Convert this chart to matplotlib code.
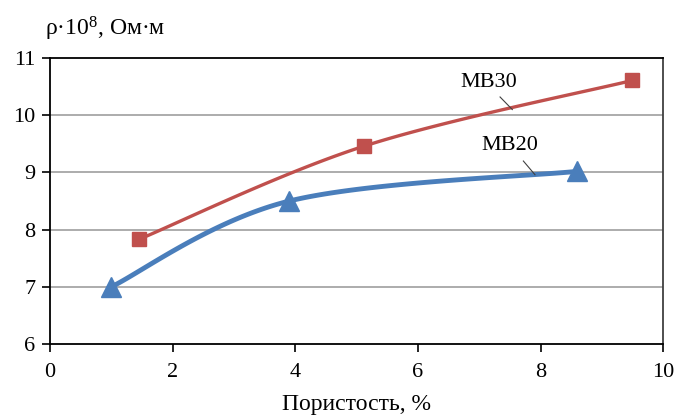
import numpy as np
import matplotlib
matplotlib.use("Agg")
import matplotlib.pyplot as plt

plt.rcParams['font.family'] = ['Liberation Serif', 'DejaVu Serif']
plt.rcParams['mathtext.fontset'] = 'custom'
plt.rcParams['mathtext.rm'] = 'Liberation Serif'
plt.rcParams['mathtext.it'] = 'Liberation Serif:italic'

# Data
mb30_x = [1.45, 5.12, 9.5]
mb30_y = [7.83, 9.46, 10.61]
mb20_x = [1.0, 3.9, 8.6]
mb20_y = [7.0, 8.5, 9.02]
x_ticks = [0, 2, 4, 6, 8, 10]
y_ticks = [6, 7, 8, 9, 10, 11]
series_names = ["MB30", "MB20"]


def smooth(xs, ys, n=60):
    p = np.column_stack([xs, ys]).astype(float)
    pts = np.vstack([p[0], p, p[-1]])
    out = []
    for i in range(1, len(pts) - 2):
        p0, p1, p2, p3 = pts[i - 1], pts[i], pts[i + 1], pts[i + 2]
        c1 = p1 + (p2 - p0) / 6.0
        c2 = p2 - (p3 - p1) / 6.0
        t = np.linspace(0, 1, n)[:, None]
        seg = ((1 - t) ** 3) * p1 + 3 * ((1 - t) ** 2) * t * c1 + 3 * (1 - t) * t ** 2 * c2 + t ** 3 * p2
        out.append(seg)
    c = np.vstack(out)
    return c[:, 0], c[:, 1]


fig = plt.figure(figsize=(6.76, 4.18), dpi=100)
ax = fig.add_axes([0.074, 0.177, 0.907, 0.684])

red = '#C0504D'
blue = '#4A7EBB'

for v in y_ticks[1:-1]:
    ax.axhline(v, color='#A6A6A6', lw=1.3, zorder=1)

sx, sy = smooth(mb30_x, mb30_y)
ax.plot(sx, sy, color=red, lw=2.4, zorder=3, solid_capstyle='round')
ax.plot(mb30_x, mb30_y, 's', color=red, ms=9.5, zorder=4)

sx, sy = smooth(mb20_x, mb20_y)
ax.plot(sx, sy, color=blue, lw=3.5, zorder=3, solid_capstyle='round')
ax.plot(mb20_x, mb20_y, '^', color=blue, ms=15, zorder=4)

ax.set_xlim(0, 10)
ax.set_ylim(6, 11)
ax.set_xticks(x_ticks)
ax.set_yticks(y_ticks)
ax.tick_params(axis='both', direction='out', length=5.5, width=1.2, labelsize=16, colors='#000000')
ax.tick_params(axis='x', pad=8)
ax.tick_params(axis='y', pad=5)
for s in ax.spines.values():
    s.set_color('#404040')
    s.set_linewidth(1.3)
ax.spines['left'].set_color('#000000')
ax.spines['bottom'].set_color('#000000')
ax.spines['top'].set_color('#000000')

ax.set_xlabel('Пористость, %', fontsize=17, labelpad=9)
fig.text(0.066, 0.93, r'ρ·10$^{8}$, Ом·м', fontsize=17, ha='left', va='center')

ax.text(7.15, 10.58, series_names[0], fontsize=16, ha='center', va='center')
ax.plot([7.34, 7.54], [10.32, 10.10], color='#404040', lw=0.8, zorder=5)
ax.text(7.5, 9.48, series_names[1], fontsize=16, ha='center', va='center')
ax.plot([7.72, 7.91], [9.2, 8.96], color='#404040', lw=0.8, zorder=5)

fig.savefig('out.png', dpi=100)
